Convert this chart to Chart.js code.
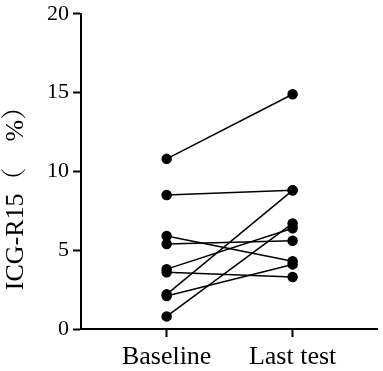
<!DOCTYPE html>
<html>
<head>
<meta charset="utf-8">
<script src="https://cdn.jsdelivr.net/npm/chart.js@4"></script>
<style>
  body { margin: 0; background: #fff; }
  #wrap { width: 383px; height: 371px; }
</style>
</head>
<body>
<div id="wrap"><canvas id="myChart"></canvas></div>
<script>
// 두 시점 이름과 환자별 값 (같은 인덱스끼리 한 쌍)
var groups = ['Baseline', 'Last test'];
var baseline = [10.8, 8.5, 5.9, 5.4, 3.8, 3.6, 2.2, 2.1, 0.8];
var lastTest = [14.9, 8.8, 4.3, 5.6, 6.4, 3.3, 8.8, 4.1, 6.7];
var yTicks = [0, 5, 10, 15, 20];
var yTitle = 'ICG-R15（　%）';

var datasets = [];
for (var i = 0; i < baseline.length; i++) {
    datasets.push({
        data: [{ x: 1, y: baseline[i] }, { x: 2, y: lastTest[i] }],
        borderColor: 'black',
        backgroundColor: 'black',
        borderWidth: 1.5,
        pointRadius: 4.5,
        pointHoverRadius: 4.5,
        tension: 0
    });
}

var serif = "'Liberation Serif', 'Noto Serif CJK SC', 'Noto Sans CJK SC', serif";

// y축 제목은 차트 중앙보다 아래쪽에 있어서 직접 그림
var yTitlePlugin = {
    id: 'yTitle',
    afterDraw: function (chart) {
        var c = chart.ctx;
        c.save();
        c.translate(16, 192);
        c.rotate(-Math.PI / 2);
        c.font = '26px ' + serif;
        c.fillStyle = 'black';
        c.textAlign = 'center';
        c.textBaseline = 'middle';
        c.fillText(yTitle, 0, 0);
        c.restore();
    }
};

var ctx = document.getElementById('myChart');
var myChart = new Chart(ctx, {
    type: 'line',
    data: { datasets: datasets },
    plugins: [yTitlePlugin],
    options: {
        responsive: true,
        maintainAspectRatio: false,
        animation: false,
        layout: { padding: { top: -3, right: 3, left: 43, bottom: -6 } },
        plugins: {
            legend: { display: false },
            tooltip: { enabled: false }
        },
        scales: {
            x: {
                type: 'linear',
                min: 0.32,
                max: 2.67,
                afterBuildTicks: function (axis) {
                    axis.ticks = groups.map(function (g, idx) { return { value: idx + 1 }; });
                },
                ticks: {
                    color: 'black',
                    font: { family: serif, size: 26, lineHeight: 1.0 },
                    padding: 7,
                    callback: function (v) { return groups[v - 1]; }
                },
                grid: {
                    drawOnChartArea: false,
                    drawTicks: true,
                    tickLength: 8,
                    tickWidth: 2,
                    tickColor: 'black'
                },
                border: { color: 'black', width: 2 }
            },
            y: {
                min: 0,
                max: 20,
                afterBuildTicks: function (axis) {
                    axis.ticks = yTicks.map(function (v) { return { value: v }; });
                },
                ticks: {
                    color: 'black',
                    font: { family: serif, size: 22, lineHeight: 0.9 },
                    padding: 4
                },
                grid: {
                    drawOnChartArea: false,
                    drawTicks: true,
                    tickLength: 8,
                    tickWidth: 2,
                    tickColor: 'black'
                },
                border: { color: 'black', width: 2 }
            }
        }
    }
});
</script>
</body>
</html>
